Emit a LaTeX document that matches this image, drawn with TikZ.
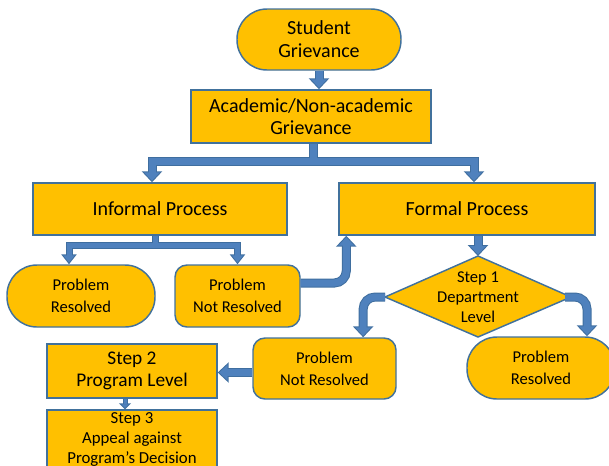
\documentclass[tikz,border=0pt]{standalone}
\usepackage{fontspec}
\setmainfont{Carlito}
\usetikzlibrary{arrows.meta}

\definecolor{boxfill}{HTML}{FFC000}
\definecolor{boxline}{HTML}{41719C}
\definecolor{arrowfill}{HTML}{4F81BD}
\definecolor{arrowedge}{HTML}{3F6E9F}

\tikzset{
  outline/.style={draw=boxline, fill=boxfill, line width=1.1pt},
  box/.style={outline, inner sep=0pt, align=center, text=black},
  bigtext/.style={font=\fontsize{15}{16.5}\selectfont},
  smalltext/.style={font=\fontsize{12.4}{16.5}\selectfont},
  % block arrows: a dark outline pass, then a lighter fill pass
  big edge/.style={draw=arrowedge, line width=6.75pt, line join=miter,
    -{Triangle[length=8.25pt,width=15pt]}},
  big fill/.style={draw=arrowfill, line width=5.25pt, line join=miter,
    -{Triangle[length=6.4pt,width=11.6pt]}, shorten >=1.1pt},
  mid edge/.style={draw=arrowedge, line width=5.25pt, line join=miter,
    -{Triangle[length=7.5pt,width=11.25pt]}},
  mid fill/.style={draw=arrowfill, line width=3.75pt, line join=miter,
    -{Triangle[length=5.5pt,width=8.25pt]}, shorten >=1.25pt},
  small edge/.style={draw=arrowedge, line width=3.75pt,
    -{Triangle[length=4.5pt,width=9pt]}},
  small fill/.style={draw=arrowfill, line width=2.25pt,
    -{Triangle[length=2.7pt,width=5.4pt]}, shorten >=1.06pt},
}

% draw one block arrow: outline pass, then fill pass
\newcommand\blockflow[2]{\draw[#1 edge] #2; \draw[#1 fill] #2;}

\begin{document}
\begin{tikzpicture}[x=0.75pt,y=-0.75pt]
\path[use as bounding box, clip] (0,0) rectangle (609,465);

% nodes
\node[box, rounded corners=22.5pt, minimum width=123pt, minimum height=45.75pt,
  font=\fontsize{15}{17.25}\selectfont] (sg) at (319,39.5) {Student\\Grievance};
\node[box, bigtext, minimum width=180pt, minimum height=39.75pt] (acad) at (311,116.5)
  {Academic/Non-academic\\Grievance};
\node[box, bigtext, minimum width=190.5pt, minimum height=39pt] (informal) at (160,209)
  {Informal Process};
\node[box, bigtext, minimum width=192pt, minimum height=39pt] (formal) at (467,209)
  {Formal Process};
\node[box, smalltext, rounded corners=22.5pt, minimum width=111pt, minimum height=46.5pt]
  (pr1) at (81,296) {Problem\\Resolved};
\node[box, smalltext, rounded corners=9pt, minimum width=93.75pt, minimum height=46.5pt]
  (pnr1) at (237.5,296) {Problem\\Not Resolved};

% decision diamond
\coordinate (s1w) at (385,297);
\coordinate (s1n) at (478,256);
\coordinate (s1e) at (571,297);
\coordinate (s1s) at (478,337);
\draw[outline] (s1w) -- (s1n) -- (s1e) -- (s1s) -- cycle;
\node[align=center, font=\fontsize{12.4}{15}\selectfont] (step1) at (478,297)
  {Step 1\\Department\\Level};

\node[box, smalltext, rounded corners=9pt, minimum width=107.25pt, minimum height=45.75pt]
  (pnr2) at (324.5,368.5) {Problem\\Not Resolved};
\node[box, smalltext, rounded corners=22.5pt, minimum width=111pt, minimum height=46.5pt]
  (pr2) at (541,368) {Problem\\Resolved};
\node[box, font=\fontsize{14.5}{16.5}\selectfont, minimum width=127.5pt, minimum height=40.5pt]
  (step2) at (132,371) {Step 2\\Program Level};
\node[box, font=\fontsize{12.6}{15}\selectfont, minimum width=127.5pt, minimum height=43.5pt]
  (step3) at (132,439) {Step 3\\Appeal against\\Program’s Decision};

% junction points of the branching arrows
\coordinate (busA) at (313,161);
\coordinate (busB) at (155,245.5);
\coordinate (nrout) at ([yshift=-3pt]pnr2.west);

% first split: academic/non-academic into the two processes
\newcommand\academicbus[1]{%
  \draw[#1,-] (busA |- acad.south) -- (busA);
  \draw[#1] (busA) -| ([xshift=-6pt]informal.north);
  \draw[#1] (busA) -| ([xshift=5.25pt]formal.north);}
\academicbus{big edge}
\academicbus{big fill}

% informal process split
\newcommand\informalbus[1]{%
  \draw[#1,-] (busB |- informal.south) -- (busB);
  \draw[#1] (busB) -| ([xshift=-9pt]pr1.north);
  \draw[#1] (busB) -| (pnr1.north);}
\informalbus{mid edge}
\informalbus{mid fill}

\blockflow{big}{(sg.south) -- (sg.south |- acad.north)}
\blockflow{big}{[rounded corners=9pt] ([yshift=9.75pt]pnr1.east) -| ([xshift=6pt]formal.south west)}
\blockflow{big}{(s1n |- formal.south) -- (s1n)}
\blockflow{big}{[rounded corners=9pt] (s1w) -| ([xshift=29pt]pnr2.north)}
\blockflow{big}{[rounded corners=9pt] ([xshift=-4.5pt]s1e) -| ([xshift=34.5pt]pr2.north)}
\blockflow{big}{(nrout) -- (nrout -| step2.east)}
\blockflow{small}{([xshift=-5.25pt]step2.south) -- ([xshift=-5.25pt]step3.north)}

\end{tikzpicture}
\end{document}
